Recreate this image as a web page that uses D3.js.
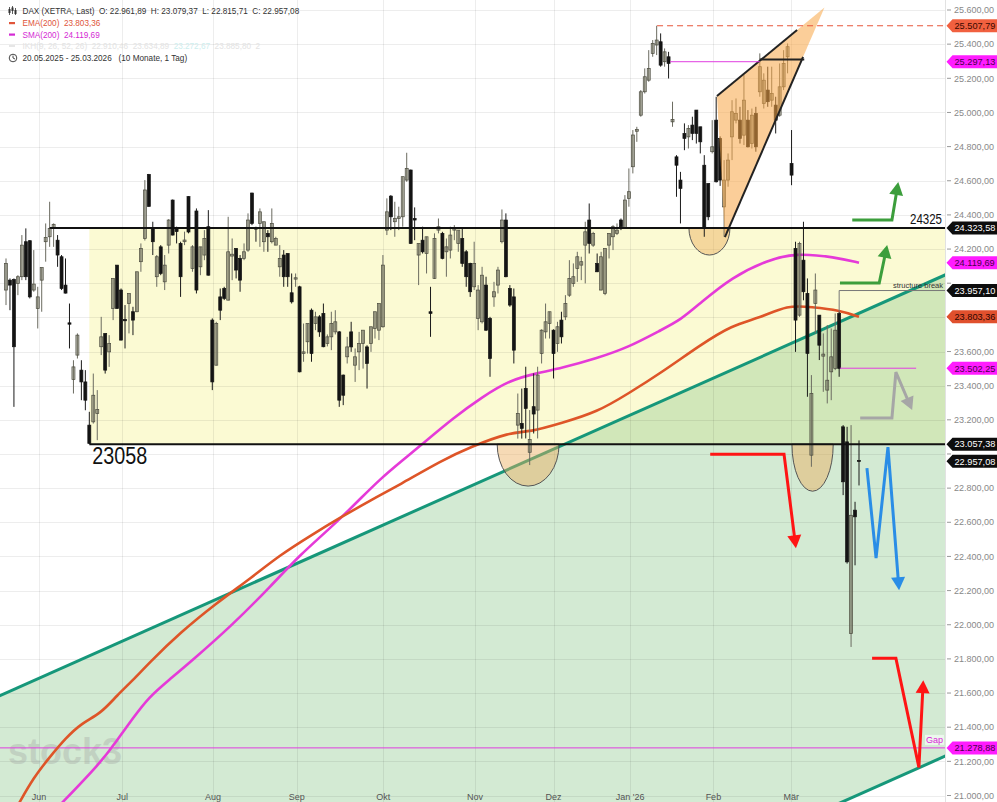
<!DOCTYPE html>
<html><head><meta charset="utf-8">
<script src="https://cdn.jsdelivr.net/npm/d3@7/dist/d3.min.js"></script>
<style>
html,body{margin:0;padding:0;background:#fff;}
svg{display:block;font-family:"Liberation Sans",Arial,Helvetica,sans-serif;}
</style></head><body>
<svg id="chart" width="997" height="802"></svg>
<script>
// ---------------- DATA ----------------
const opens = [23960,24018,24022,23999,24038,24243,24249,23960,23852,24018,
24243,24272,24325,24252,24155,23989,23768,23436,23579,23491,
23422,23169,23188,23237,23628,23706,23598,23852,24106,23960,
23788,23881,23833,23833,24126,24262,24637,24321,24038,24213,
24008,24223,24487,24321,24233,24243,24507,24086,24423,24096,
24165,24331,23784,23520,23920,23969,23901,24159,24204,24145,
24145,24194,24528,24325,24350,24243,24292,24243,24223,24096,
24165,24174,23944,24024,23979,23588,23657,23842,23764,23803,
23823,23647,23686,23715,23715,23462,23569,23715,23520,23598,
23647,23627,23647,23735,23725,23745,24311,24510,24360,24379,
24389,24604,24663,24379,24165,24252,24174,23833,24028,24311,
24292,24184,24194,24311,24233,24262,24184,24116,23979,23794,
23774,23989,23794,23920,23989,24243,24370,23969,23920,23169,
23179,23384,23010,23277,23257,23588,23715,23764,23725,23647,
23784,23803,23930,23999,24087,24106,24223,24370,24223,24116,
23960,23940,24223,24272,24292,24370,24321,24497,24682,24890,
24984,25121,25189,25346,25395,25414,25297,25326,24945,24740,
24604,24877,24857,24926,25014,24916,24691,24584,24770,24955,
24848,24447,24604,24857,24955,24955,24867,24955,24818,24994,
25121,25053,25131,25072,25043,24984,25150,25326,24701,24204,
23813,24135,23940,22993,23882,23813,23573,23374,23481,23501,
23823,23159,23071,21948,22671,22961.89];
const highs = [24145,24028,24028,24047,24282,24321,24252,24194,23979,24092,
24350,24477,24350,24282,24165,24145,23881,23549,23706,23549,
23491,23247,23471,23374,23803,23706,23696,24028,24106,23969,
23872,23940,23862,24067,24233,24604,24640,24360,24165,24223,
24165,24375,24490,24331,24243,24302,24510,24223,24438,24213,
24311,24428,23794,23774,23969,23979,24389,24262,24204,24165,
24233,24409,24530,24331,24438,24360,24311,24438,24272,24223,
24194,24175,24057,24057,23985,23764,23764,23852,23833,23813,
23881,23700,23833,23842,23720,23465,23686,23774,23618,23715,
23725,23637,23745,23833,23881,24165,24497,24516,24477,24448,
24624,24764,24665,24444,24233,24331,24272,23979,24292,24379,
24301,24262,24331,24340,24311,24321,24194,24120,24243,23989,
24096,24038,23803,24008,24096,24432,24409,23989,23969,23354,
23383,23511,23257,23472,23511,23730,23881,23833,23730,23774,
23833,23930,24135,24116,24184,24155,24360,24467,24301,24174,
24184,24204,24292,24340,24350,24379,24516,24672,24897,24916,
25131,25258,25365,25424,25507.79,25463,25375,25355,25063,24750,
24652,24936,24926,24975,25014,24916,24750,24584,24955,25092,
24860,24721,24760,25072,25082,25033,25219,25014,25023,25033,
25346,25229,25268,25268,25092,25287,25365,25404,24897,24243,
24243,24360,24028,23462,24057,23813,23706,23755,23735,23823,
23833,23169,23159,23169,22720,23079.37];
const lows = [23872,23842,23276,23930,24018,24018,23911,23950,23735,23833,
24126,24213,24213,24096,23960,23940,23618,23354,23559,23315,
23256,23058,23178,23081,23579,23471,23510,23784,23850,23665,
23618,23706,23696,23830,24067,24250,24448,24165,23979,24047,
23960,24174,24280,24233,23920,24223,24292,24067,23940,24047,
24135,24045,23374,23518,23784,23901,23899,24018,24028,23950,
24135,24184,24340,24243,24213,24184,24184,24233,24223,24038,
23979,23979,23881,23979,23478,23540,23588,23540,23725,23686,
23625,23630,23608,23700,23276,23286,23530,23598,23422,23491,
23500,23383,23598,23676,23667,23740,24282,24311,24272,24311,
24331,24594,24230,24252,23989,24174,24057,23686,24025,24292,
24140,24038,24145,24252,24184,24096,23979,23920,23960,23725,
23764,23720,23452,23862,23940,24233,24035,23862,23530,23090,
23090,23091,22935,23120,23091,23530,23676,23676,23442,23598,
23647,23784,23920,23979,24008,24018,23999,24174,24213,24065,
23958,23930,24145,24194,24282,24311,24318,24448,24643,24828,
24975,25111,25180,25326,25336,25268,25268,25199,24916,24506,
24350,24779,24789,24838,24818,24760,24272,24369,24760,24590,
24570,24272,24565,24721,24936,24818,24809,24795,24789,24770,
25092,25023,25033,25033,24877,24975,25131,25229,24574,23598,
23803,23900,23335,22925,23706,23550,23364,23296,23315,23491,
23452,22759,22358,21870,22348,22815.71];
const closes = [24116,23989,23628,24038,24223,24038,23920,23995,23920,24092,
24268,24321,24345,24165,23969,23942,23760,23510,23696,23422,
23315,23062,23344,23260,23686,23491,23647,24028,23852,23667,
23780,23940,23784,24067,24204,24546,24450,24243,24155,24057,
24106,24370,24282,24302,24038,24253,24300,24213,23960,24213,
24262,24047,23422,23764,23842,23911,24184,24170,24077,24018,
24184,24370,24350,24317,24418,24360,24272,24350,24262,24145,
24038,24038,23891,24032,23481,23598,23764,23588,23803,23715,
23628,23686,23764,23774,23315,23344,23627,23627,23569,23647,
23725,23530,23745,23833,23881,24106,24418,24389,24379,24389,
24624,24672,24233,24370,24233,24184,24272,23823,24262,24331,
24145,24213,24282,24321,24311,24116,24038,23950,24116,23960,
24047,23725,23559,23950,24077,24370,24038,23872,23608,23237,
23150,23267,23085,23234,23462,23725,23774,23833,23588,23745,
23686,23881,24028,24038,24155,24126,24301,24233,24292,24067,
24155,24204,24292,24331,24311,24331,24487,24536,24868,24900,
25121,25209,25258,25404,25424,25277,25355,25287,24959,24691,
24555,24848,24906,24877,24877,24828,24320,24389,24799,24594,
24604,24604,24721,25004,24994,24848,25072,24799,24984,24799,
25268,25189,25063,25111,24955,25150,25287,25385,24633,23784,
24233,23950,23589,23354,23960,23637,23585,23432,23569,23725,
23501,22837,22368,22641,22632,22957.08];

// moving averages (sampled, index / value)
const emaIdx = [3,7,11,15,19,24,28,32,36,44,53,62,69,77,84,92,99,110,117,127,132,140,149,157,165,175,183,190,197,203,210,215];
const emaVal = [20943,21107,21224,21335,21423,21482,21587,21675,21775,21956,22126,22278,22407,22525,22624,22730,22817,22964,23040,23128,23128,23181,23245,23356,23474,23638,23755,23796,23872,23860,23843,23803.36];
const smaIdx = [13,24,28,32,36,41,47,57,67,74,82,89,94,100,104,113,120,127,134,140,149,157,165,170,175,183,192,199,209,215];
const smaVal = [20930,21195,21324,21453,21576,21675,21792,21997,22232,22407,22571,22730,22847,22964,23040,23216,23333,23433,23474,23503,23561,23626,23725,23784,23884,24036,24136,24177,24153,24119.69];

// axis
const yTicks = [21000,21200,21400,21600,21800,22000,22200,22400,22600,22800,23000,23200,23400,23600,23800,24000,24200,24400,24600,24800,25000,25200,25400,25600];
const monthLabels = ["Jun","Jul","Aug","Sep","Okt","Nov","Dez","Jan '26","Feb","Mär"];
const monthPos = [8.3,29.3,52.2,73.3,95.1,118.2,138,157.3,178.3,197.9];

// price tags
const tagValues = [25507.79,25297.13,24323.58,24119.69,23957.10,23803.36,23502.25,23057.38,22957.08,21278.88];
const tagKinds  = ["red","mag","blk","mag","blk","ema","mag","blk","blk","mag"];

// drawn annotations (index, price)
const levelTop = 24323.58, levelBottom = 23057.38;
const levelTopStart = 11, boxStart = 21;
const tealLine = [[0,21601],[215,23824]];
const channelDepth = 2818;
const highLevel = 25507.79, highStart = 164.1;
const magTop = [[167.4,25297.13],[190,25297.13]];
const wedgeTopFlat = [[190,25310],[201.2,25310]];
const wedgeUpper = [[179.2,25096],[199.4,25483]];
const wedgeLower = [[181.2,24270],[200.9,25325]];
const wedgeFill = [[179.2,25096],[206.3,25615],[181.2,24270]];
const bowls = [[177.3,5.17,24323.58,24165],[131.6,7.8,23057.38,22812],[203.3,5.2,23057.38,22782]];
const greenArrow1 = [[213.3,24370],[223.3,24370],[224.9,24593]];
const greenArrow2 = [[210.2,24001],[220.1,24001],[222.1,24224]];
const grayArrow = [[215.3,23210],[223.3,23210],[224.3,23479],[228.4,23257]];
const blueArrow = [[217.0,22917],[219.3,22390],[222.3,23040],[225.1,22202]];
const redArrow1 = [[177.5,22999],[196.1,22999],[199.1,22448]];
const redArrow2 = [[218.3,21804],[224.3,21804],[230.1,21165],[231.2,21675]];
const structBreak = {i:210, from:23833, level:23957.10};
const magMid = [[210.2,23502.25],[229.4,23502.25]];
const gapLevel = 21278.88;

// ---------------- DRAW ----------------
const svg = d3.select("#chart");
const PR = 945, H = 802;
const x = d3.scaleLinear().domain([0, opens.length-1]).range([6, 859]);
const y = d3.scaleLinear().domain([21000, 25600]).range([795.5, 10]);
const END = x.invert(PR+2), START = x.invert(-2);
const fmt = d3.formatLocale({decimal:",",thousands:".",grouping:[3],currency:["",""]}).format(",.2f");
const line = d3.line().x(d=>x(d[0])).y(d=>y(d[1]));

svg.append("defs").append("clipPath").attr("id","plot")
  .append("rect").attr("x",0).attr("y",0).attr("width",PR).attr("height",H);
const g = svg.append("g").attr("clip-path","url(#plot)");

// yellow range box
g.append("rect").attr("x",x(boxStart)).attr("y",y(levelTop))
  .attr("width",PR-x(boxStart)).attr("height",y(levelBottom)-y(levelTop))
  .attr("fill","#fbfad3");

// green channel
const tealAt = i => tealLine[0][1] + (i-tealLine[0][0])*(tealLine[1][1]-tealLine[0][1])/(tealLine[1][0]-tealLine[0][0]);
const chan = [[START,tealAt(START)],[END,tealAt(END)],[END,tealAt(END)-channelDepth],[START,tealAt(START)-channelDepth]];
g.append("path").attr("d",line(chan)+"Z").attr("fill","rgba(150,206,150,0.42)");

// grid
g.selectAll(".hg").data(yTicks).enter().append("line")
  .attr("x1",0).attr("x2",PR).attr("y1",d=>Math.round(y(d))+0.5).attr("y2",d=>Math.round(y(d))+0.5)
  .attr("stroke","rgba(0,0,0,0.07)");
g.selectAll(".vg").data(monthPos).enter().append("line")
  .attr("y1",0).attr("y2",H).attr("x1",d=>Math.round(x(d))+0.5).attr("x2",d=>Math.round(x(d))+0.5)
  .attr("stroke","rgba(0,0,0,0.07)");

// watermark
g.append("text").attr("x",8).attr("y",764).attr("font-size",36).attr("font-weight","bold")
  .attr("fill","#9a9a9a").attr("opacity",0.3).text("stock3");

// gap line
g.append("line").attr("x1",0).attr("x2",PR).attr("y1",y(gapLevel)).attr("y2",y(gapLevel))
  .attr("stroke","#e03ee0").attr("stroke-width",1);

// teal lines
g.append("path").attr("d",line([[START,tealAt(START)],[END,tealAt(END)]])).attr("stroke","#16977a").attr("stroke-width",3).attr("fill","none");
g.append("path").attr("d",line([[START,tealAt(START)-channelDepth],[END,tealAt(END)-channelDepth]])).attr("stroke","#16977a").attr("stroke-width",3).attr("fill","none");

// bowls
bowls.forEach(b=>{
  const cx=x(b[0]), rx=x(b[0]+b[1])-cx, cy=y(b[2]), ry=y(b[3])-cy;
  g.append("path").attr("d",`M${cx-rx},${cy} A${rx},${ry} 0 0 0 ${cx+rx},${cy} Z`)
   .attr("fill","rgba(236,172,92,0.45)").attr("stroke","#555").attr("stroke-width",1);
});

// moving averages
const maLine = d3.line().curve(d3.curveBasis).x(d=>x(d[0])).y(d=>y(d[1]));
g.append("path").attr("d",maLine(smaIdx.map((d,k)=>[d,smaVal[k]]))).attr("fill","none").attr("stroke","#e53ad8").attr("stroke-width",2.6);
g.append("path").attr("d",maLine(emaIdx.map((d,k)=>[d,emaVal[k]]))).attr("fill","none").attr("stroke","#de5528").attr("stroke-width",2.6);

// candles
const cg = g.append("g");
opens.forEach((o,i)=>{
  const c=closes[i], up=c>=o, cx=x(i);
  cg.append("line").attr("x1",cx).attr("x2",cx).attr("y1",y(highs[i])).attr("y2",y(lows[i]))
    .attr("stroke",up?"#6b6b60":"#1a1a1a").attr("stroke-width",1);
  const top=y(Math.max(o,c)), bot=y(Math.min(o,c));
  cg.append("rect").attr("x",cx-1.5).attr("y",top).attr("width",3).attr("height",Math.max(1,bot-top))
    .attr("fill",up?"rgba(120,120,100,0.5)":"#141414").attr("stroke",up?"#4a4a3e":"#141414").attr("stroke-width",0.7);
});

// wedge
g.append("path").attr("d",line(wedgeFill)+"Z").attr("fill","rgba(247,166,70,0.55)");
[wedgeUpper,wedgeLower,wedgeTopFlat].forEach(s=>g.append("path").attr("d",line(s)).attr("stroke","#222").attr("stroke-width",2).attr("fill","none"));
g.append("path").attr("d",line(magTop)).attr("stroke","#e03ee0").attr("stroke-width",1).attr("fill","none");

// red dashed high
g.append("line").attr("x1",x(highStart)).attr("x2",PR).attr("y1",y(highLevel)).attr("y2",y(highLevel))
  .attr("stroke","#e8553a").attr("stroke-width",1.2).attr("stroke-dasharray","6,4");

// levels
g.append("line").attr("x1",x(levelTopStart)).attr("x2",PR).attr("y1",y(levelTop)).attr("y2",y(levelTop)).attr("stroke","#111").attr("stroke-width",2);
g.append("line").attr("x1",x(boxStart)).attr("x2",PR).attr("y1",y(levelBottom)).attr("y2",y(levelBottom)).attr("stroke","#111").attr("stroke-width",2);
g.append("text").attr("x",942).attr("y",y(levelTop)-4).attr("text-anchor","end").attr("font-size",14)
  .attr("textLength",32).attr("lengthAdjust","spacingAndGlyphs").attr("fill","#111").text("24325");
g.append("text").attr("x",x(boxStart)+3).attr("y",y(levelBottom)+19.5).attr("font-size",23)
  .attr("textLength",55).attr("lengthAdjust","spacingAndGlyphs").attr("fill","#111").text("23058");

// structure break
g.append("path").attr("d",line([[structBreak.i,structBreak.from],[structBreak.i,structBreak.level],[END,structBreak.level]]))
  .attr("stroke","#777").attr("stroke-width",1).attr("fill","none");
g.append("text").attr("x",943).attr("y",y(structBreak.level)-2.5).attr("text-anchor","end")
  .attr("font-size",7.5).attr("fill","#333").text("structure break");
g.append("path").attr("d",line(magMid)).attr("stroke","#e03ee0").attr("stroke-width",1).attr("fill","none");

// Gap label
g.append("rect").attr("x",925).attr("y",y(gapLevel)-13).attr("width",19).attr("height",10).attr("fill","rgba(255,255,255,0.6)");
g.append("text").attr("x",926).attr("y",y(gapLevel)-4.5).attr("font-size",9).attr("fill","#d81fd8").text("Gap");

// arrows
function arrow(pts,color){
  const P=pts.map(d=>[x(d[0]),y(d[1])]);
  const n=P.length, tip=P[n-1], prev=P[n-2];
  const dx=tip[0]-prev[0], dy=tip[1]-prev[1], L=Math.hypot(dx,dy), ux=dx/L, uy=dy/L;
  const hl=13, hw=7;
  const base=[tip[0]-ux*hl, tip[1]-uy*hl];
  const shaft=P.slice(0,n-1).concat([[tip[0]-ux*(hl-2),tip[1]-uy*(hl-2)]]);
  g.append("path").attr("d",d3.line()(shaft)).attr("fill","none").attr("stroke",color)
    .attr("stroke-width",3).attr("stroke-linejoin","miter");
  g.append("path").attr("d",d3.line()([tip,[base[0]-uy*hw,base[1]+ux*hw],[base[0]+uy*hw,base[1]-ux*hw]])+"Z").attr("fill",color);
}
arrow(greenArrow1,"#3c9e3c");
arrow(greenArrow2,"#3c9e3c");
arrow(grayArrow,"#a6a6a6");
arrow(blueArrow,"#2a8de6");
arrow(redArrow1,"#ff1414");
arrow(redArrow2,"#ff1414");

// month labels
g.selectAll(".ml").data(monthLabels).enter().append("text")
  .attr("x",(d,k)=>x(monthPos[k])).attr("y",799.5).attr("text-anchor","middle")
  .attr("font-size",9).attr("fill","#555").text(d=>d);

// ---------- right axis ----------
svg.append("line").attr("x1",945.5).attr("x2",945.5).attr("y1",0).attr("y2",H).attr("stroke","#e2e2e2");
const ax = svg.append("g");
yTicks.forEach(v=>{
  const yy=y(v);
  ax.append("line").attr("x1",947).attr("x2",951).attr("y1",yy).attr("y2",yy).attr("stroke","#999");
  // labels hidden behind a price tag are not drawn (they are covered in the original)
  const covered = tagValues.some(t=>Math.abs(y(t)-yy) < 8.5);
  if(!covered) ax.append("text").attr("x",954).attr("y",yy+3.2).attr("font-size",9).attr("fill","#888").text(fmt(v));
});
const tagStyle = {red:["#f1603f","#3a0800"],ema:["#e0502d","#2a0500"],mag:["#ff1cff","#4a004a"],blk:["#0d0d0d","#ffffff"]};
tagValues.forEach((v,k)=>{
  const yy=y(v), st=tagStyle[tagKinds[k]];
  ax.append("path").attr("d",`M946.5,${yy} L952.5,${yy-6.5} L997,${yy-6.5} L997,${yy+6.5} L952.5,${yy+6.5} Z`).attr("fill",st[0]);
  ax.append("text").attr("x",954.5).attr("y",yy+3.3).attr("font-size",9.2).attr("fill",st[1]).text(fmt(v));
});

// ---------- legend ----------
const lg = svg.append("g").attr("font-size",8.2);
[[9.5,7,15,9,13],[12.5,6,14,7.5,11],[15.5,8,15,10,14]].forEach(c=>{
  lg.append("line").attr("x1",c[0]).attr("x2",c[0]).attr("y1",c[1]).attr("y2",c[2]).attr("stroke","#333").attr("stroke-width",0.8);
  lg.append("rect").attr("x",c[0]-1).attr("y",c[3]).attr("width",2).attr("height",c[4]-c[3]).attr("fill","#333");
});
lg.append("text").attr("x",22.5).attr("y",14).attr("fill","#333").style("white-space","pre")
  .text("DAX (XETRA, Last)  O: 22.961,89  H: 23.079,37  L: 22.815,71  C: 22.957,08");
lg.append("rect").attr("x",9).attr("y",22).attr("width",6).attr("height",2.2).attr("fill","#e0553a");
lg.append("text").attr("x",22.5).attr("y",26).attr("fill","#e0553a").style("white-space","pre").text("EMA(200)  23.803,36");
lg.append("rect").attr("x",9).attr("y",33.5).attr("width",6).attr("height",2.2).attr("fill","#d42ad4");
lg.append("text").attr("x",22.5).attr("y",37.5).attr("fill","#d42ad4").style("white-space","pre").text("SMA(200)  24.119,69");
lg.append("rect").attr("x",9).attr("y",45).attr("width",6).attr("height",2).attr("fill","#e6e6e6");
const ikh = lg.append("text").attr("x",22.5).attr("y",49).style("white-space","pre");
ikh.append("tspan").attr("fill","#e3e3e3").text("IKH(9, 26, 52, 26)  22.910,46  23.634,89  ");
ikh.append("tspan").attr("fill","#cdeeee").text("23.272,67");
ikh.append("tspan").attr("fill","#e3e3e3").text("  23.885,80  2");
lg.append("circle").attr("cx",13).attr("cy",58).attr("r",3.8).attr("fill","none").attr("stroke","#333").attr("stroke-width",0.9);
lg.append("path").attr("d","M13,55.6 L13,58 L15,59").attr("fill","none").attr("stroke","#333").attr("stroke-width",0.9);
lg.append("text").attr("x",22.5).attr("y",61).attr("fill","#333").style("white-space","pre")
  .text("20.05.2025 - 25.03.2026   (10 Monate, 1 Tag)");
</script>
</body></html>
